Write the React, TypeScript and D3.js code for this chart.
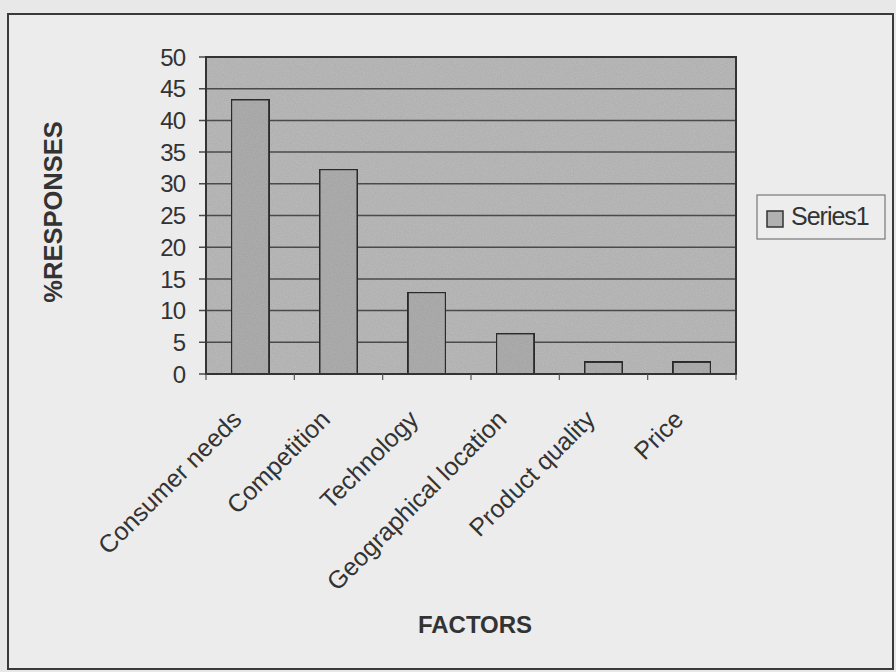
import React from "react";
import * as d3 from "d3";

const categories = [
  "Consumer needs",
  "Competition",
  "Technology",
  "Geographical location",
  "Product quality",
  "Price",
];
const values = [43.3, 32.3, 12.9, 6.4, 1.9, 1.9];
const yTicks = [0, 5, 10, 15, 20, 25, 30, 35, 40, 45, 50];
const seriesName = "Series1";
const yTitle = "%RESPONSES";
const xTitle = "FACTORS";

const W = 896;
const H = 672;
const plot = { left: 206, right: 736, top: 57, bottom: 374 };
const FONT = "'Liberation Sans', Arial, sans-serif";

export default function App() {
  const x = d3
    .scaleBand<string>()
    .domain(categories)
    .range([plot.left, plot.right])
    .paddingInner(0.57)
    .paddingOuter(0.285);
  const y = d3.scaleLinear().domain([0, 50]).range([plot.bottom, plot.top]);
  const step = x.step();
  const boundaries = d3.range(categories.length + 1).map((i) => plot.left + i * step);

  return (
    <svg
      width={W}
      height={H}
      style={{ position: "absolute", left: 0, top: 0, display: "block" }}
    >
      <defs>
        <filter id="grain" x="0" y="0" width="100%" height="100%">
          <feTurbulence type="fractalNoise" baseFrequency="0.9" numOctaves="2" seed="3" result="n" />
          <feColorMatrix
            in="n"
            type="matrix"
            values="0 0 0 0 0  0 0 0 0 0  0 0 0 0 0  0 0 0 0.2 0"
            result="a"
          />
          <feComposite in="a" in2="SourceGraphic" operator="in" result="b" />
          <feMerge>
            <feMergeNode in="SourceGraphic" />
            <feMergeNode in="b" />
          </feMerge>
        </filter>
      </defs>
      <rect x={0} y={0} width={W} height={H} fill="#e8e8e8" />
      <rect x={8} y={14} width={885} height={655} fill="#ececec" stroke="#3a3a3a" strokeWidth={2} />

      {/* plot area */}
      <rect
        x={plot.left}
        y={plot.top}
        width={plot.right - plot.left}
        height={plot.bottom - plot.top}
        fill="#bdbdbd"
        filter="url(#grain)"
      />
      {yTicks.map((t) => (
        <line
          key={"g" + t}
          x1={plot.left - 7}
          x2={plot.right}
          y1={y(t)}
          y2={y(t)}
          stroke="#4a4a4a"
          strokeWidth={1.5}
        />
      ))}
      <rect
        x={plot.left}
        y={plot.top}
        width={plot.right - plot.left}
        height={plot.bottom - plot.top}
        fill="none"
        stroke="#333"
        strokeWidth={2}
      />

      {/* bars */}
      {categories.map((c, i) => (
        <rect
          key={c}
          x={x(c)}
          y={y(values[i])}
          width={x.bandwidth()}
          height={y(0) - y(values[i])}
          fill="#b1b1b1"
          stroke="#2e2e2e"
          strokeWidth={2}
          filter="url(#grain)"
        />
      ))}

      {/* x axis */}
      <line x1={plot.left} x2={plot.right} y1={plot.bottom} y2={plot.bottom} stroke="#333" strokeWidth={2} />
      {boundaries.map((b, i) => (
        <line key={"t" + i} x1={b} x2={b} y1={plot.bottom} y2={plot.bottom + 6} stroke="#555" strokeWidth={1.2} />
      ))}

      {/* y tick labels */}
      {yTicks.map((t) => (
        <text
          key={"l" + t}
          x={185}
          y={y(t)}
          dy="0.36em"
          textAnchor="end"
          fontFamily={FONT}
          fontSize={24}
          fill="#333"
          letterSpacing={-1}
        >
          {t}
        </text>
      ))}

      {/* x labels */}
      {categories.map((c) => (
        <text
          key={"x" + c}
          transform={`translate(${(x(c) as number) + x.bandwidth() / 2 - 7},${421}) rotate(-45)`}
          textAnchor="end"
          fontFamily={FONT}
          fontSize={25}
          fill="#333"
        >
          {c}
        </text>
      ))}

      {/* axis titles */}
      <text
        transform={`translate(62,${212}) rotate(-90)`}
        textAnchor="middle"
        fontFamily={FONT}
        fontSize={25.5}
        fontWeight="bold"
        fill="#333"
      >
        {yTitle}
      </text>
      <text
        x={475}
        y={633}
        textAnchor="middle"
        fontFamily={FONT}
        fontSize={24}
        fontWeight="bold"
        fill="#333"
      >
        {xTitle}
      </text>

      {/* legend */}
      <rect x={757} y={195} width={128} height={44} fill="#ededed" stroke="#777" strokeWidth={1.2} />
      <rect x={767} y={211} width={16} height={16} fill="#b1b1b1" stroke="#333" strokeWidth={1.5} />
      <text x={791} y={224.5} fontFamily={FONT} fontSize={25} fill="#333" letterSpacing={-1}>
        {seriesName}
      </text>
    </svg>
  );
}
